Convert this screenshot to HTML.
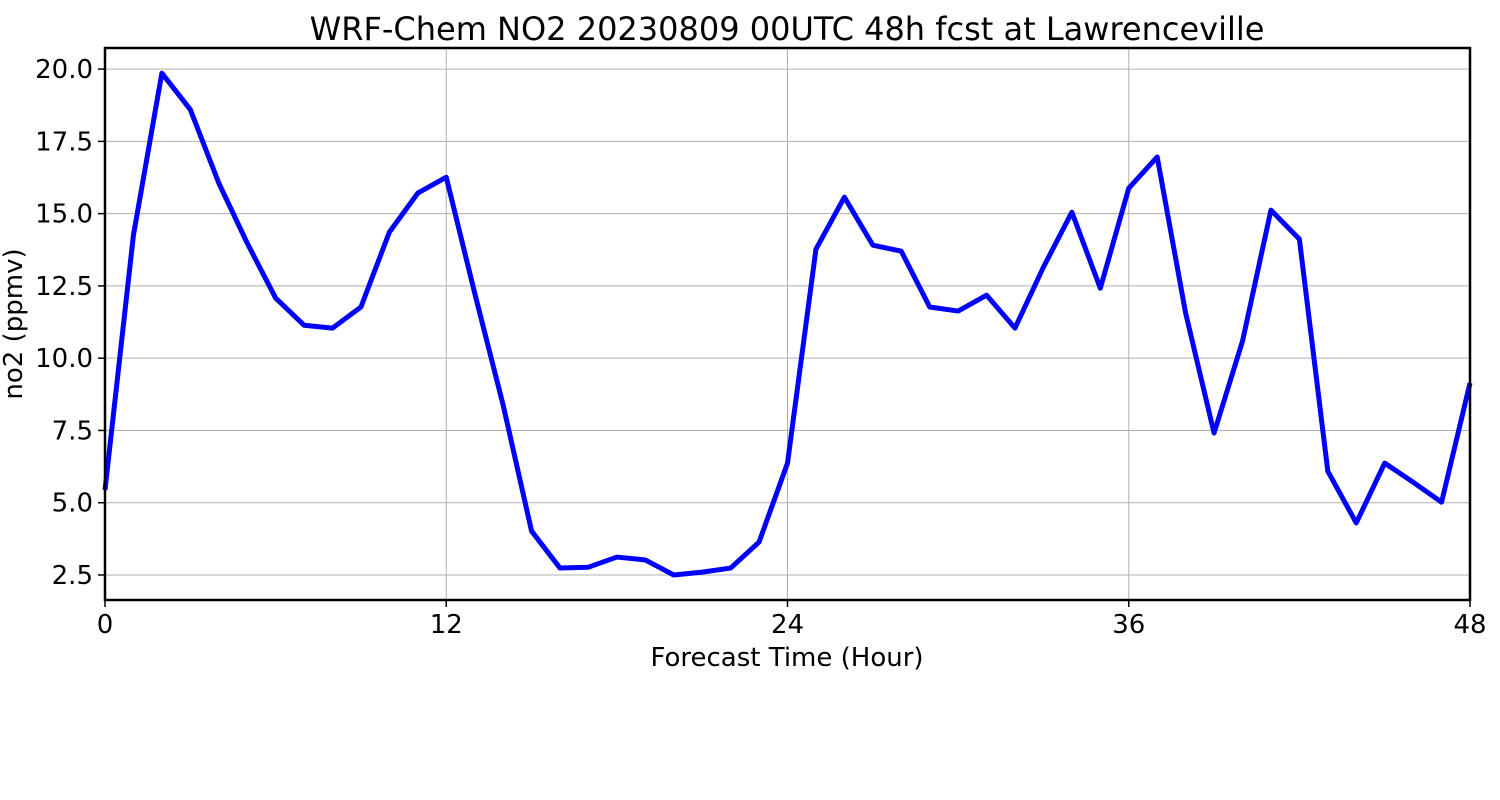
<!DOCTYPE html>
<html><head><meta charset="utf-8"><style>
html,body{margin:0;padding:0;background:#fff;}
svg{display:block;font-family:"DejaVu Sans","Liberation Sans",sans-serif;}
</style></head><body>
<svg id="chart" width="1500" height="800" xmlns="http://www.w3.org/2000/svg">
<text x="787" y="40" text-anchor="middle" font-size="32">WRF-Chem NO2  20230809 00UTC 48h fcst at Lawrenceville</text>
<g id="grid"></g>
<g id="axes"></g>
<polyline id="line" fill="none" stroke="#0000ff" stroke-width="5" stroke-linejoin="round"/>
<rect x="105" y="48" width="1365" height="552" fill="none" stroke="#000" stroke-width="2.5"/>
<text x="787" y="666" text-anchor="middle" font-size="26">Forecast Time (Hour)</text>
<text transform="translate(22,324) rotate(-90)" text-anchor="middle" font-size="26">no2  (ppmv)</text>
</svg>
<script>
const hours = [0,1,2,3,4,5,6,7,8,9,10,11,12,13,14,15,16,17,18,19,20,21,22,23,24,25,26,27,28,29,30,31,32,33,34,35,36,37,38,39,40,41,42,43,44,45,46,47,48];
const no2 = [5.44,14.26,19.86,18.6,16.06,13.98,12.08,11.14,11.04,11.77,14.36,15.71,16.26,12.25,8.38,4.02,2.74,2.77,3.12,3.02,2.5,2.6,2.74,3.64,6.37,13.77,15.57,13.91,13.7,11.77,11.63,12.18,11.04,13.15,15.05,12.42,15.88,16.96,11.56,7.41,10.59,15.12,14.12,6.09,4.3,6.37,5.71,5.02,9.14];
const xTicks = [0,12,24,36,48];
const yTicks = [2.5,5.0,7.5,10.0,12.5,15.0,17.5,20.0];
const NS="http://www.w3.org/2000/svg";
const X0=105,X1=1470,Y0=600,Y1=48,xmin=0,xmax=48,ymin=1.635,ymax=20.73;
function sx(v){return X0+(v-xmin)/(xmax-xmin)*(X1-X0);}
function sy(v){return Y0-(v-ymin)/(ymax-ymin)*(Y0-Y1);}
const grid=document.getElementById('grid'),axes=document.getElementById('axes');
function mk(tag,attrs,parent){const e=document.createElementNS(NS,tag);for(const k in attrs)e.setAttribute(k,attrs[k]);parent.appendChild(e);return e;}
xTicks.forEach(t=>{
  const g=mk('line',{x1:sx(t),x2:sx(t),y1:Y1,y2:Y0,stroke:'#b0b0b0','stroke-width':1},grid);
  
  
  const tk=mk('line',{x1:sx(t),x2:sx(t),y1:Y0,y2:Y0+7,stroke:'#000','stroke-width':1.5},axes);
  
  
  const tx=mk('text',{x:sx(t),y:Y0+33,'text-anchor':'middle','font-size':26},axes);
  tx.textContent=t;
  
  
});
yTicks.forEach(t=>{
  const g=mk('line',{x1:X0,x2:X1,y1:sy(t),y2:sy(t),stroke:'#b0b0b0','stroke-width':1},grid);
  
  
  const tk=mk('line',{x1:X0-7,x2:X0,y1:sy(t),y2:sy(t),stroke:'#000','stroke-width':1.5},axes);
  
  
  const tx=mk('text',{x:X0-12,y:sy(t)+9,'text-anchor':'end','font-size':26},axes);
  tx.textContent=t.toFixed(1);
  
  
});
document.getElementById('line').setAttribute('points',hours.map((h,i)=>sx(h)+','+sy(no2[i])).join(' '));
</script>
</body></html>
